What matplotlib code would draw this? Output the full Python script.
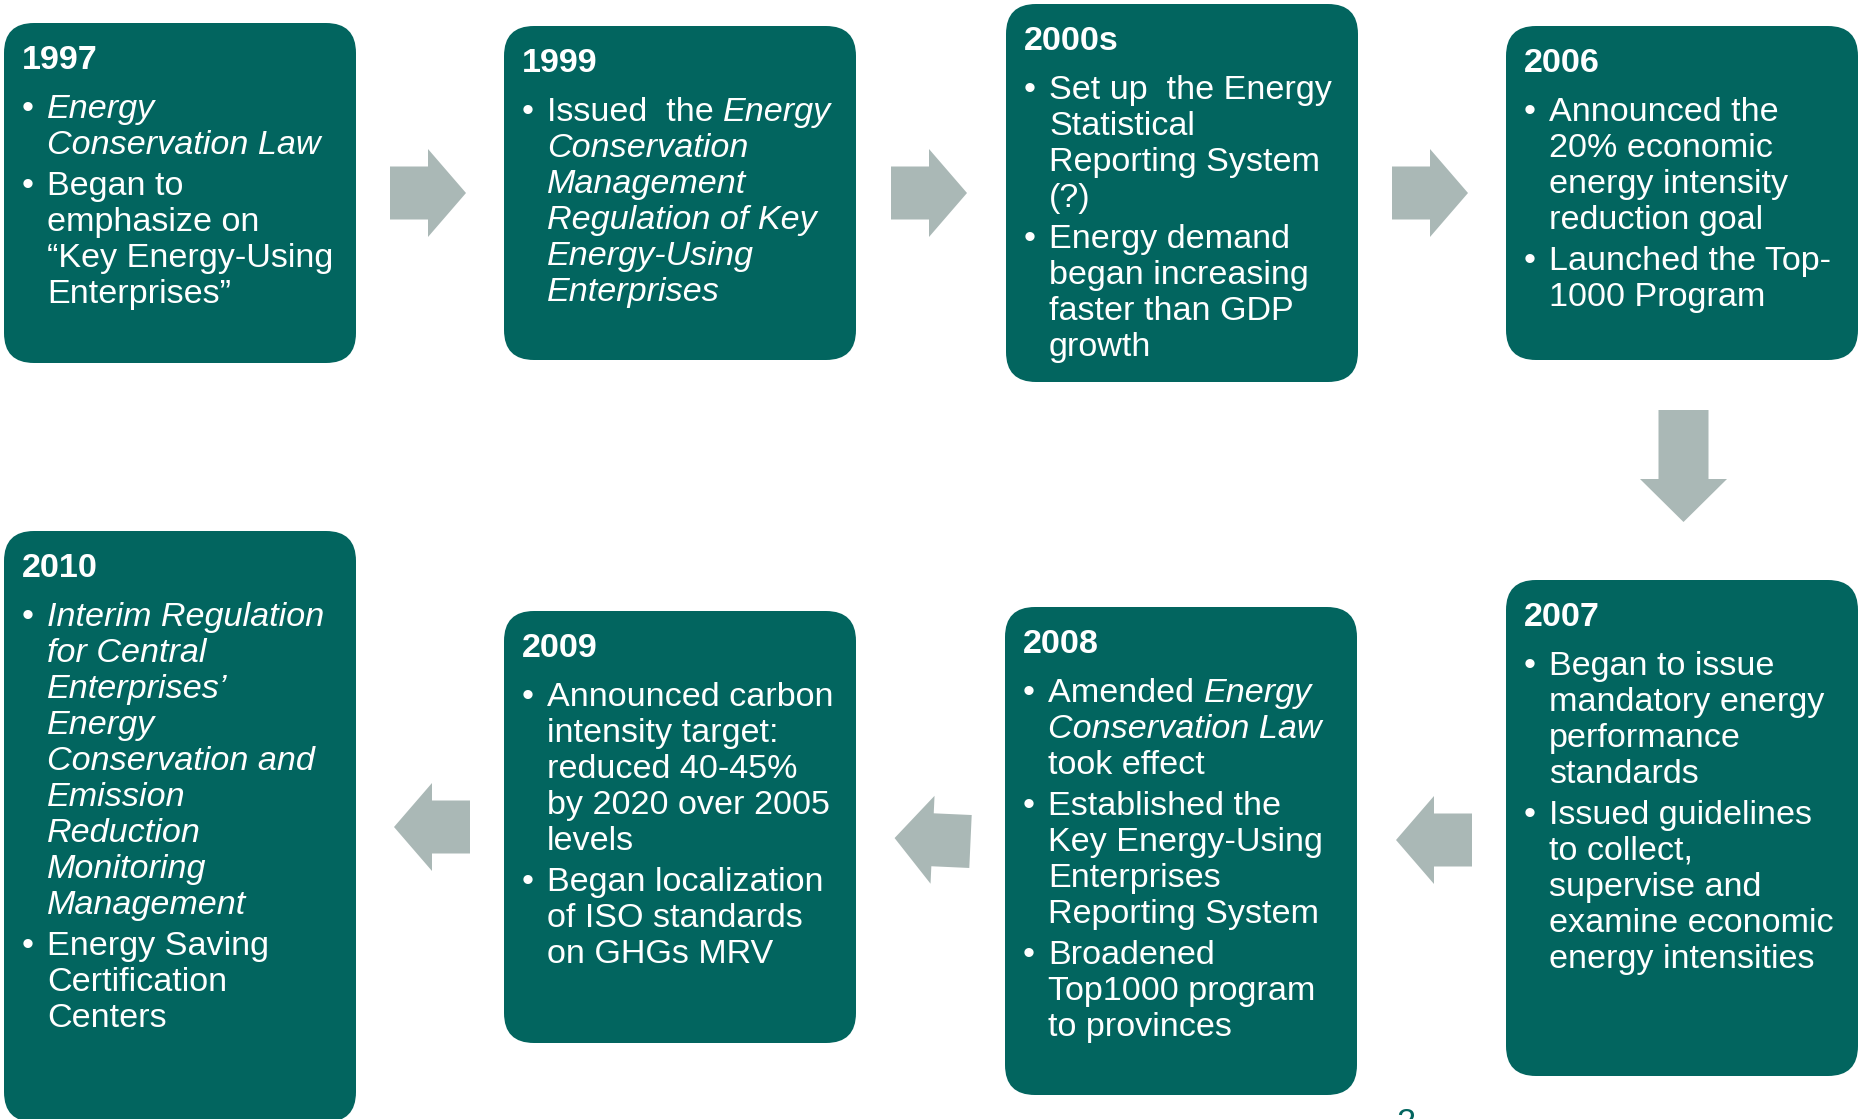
import numpy as np
import matplotlib
matplotlib.use("Agg")
import matplotlib.pyplot as plt
from matplotlib.patches import FancyBboxPatch, Polygon

# ---- content ----
years = ["1997", "1999", "2000s", "2006", "2007", "2008", "2009", "2010"]

# one list per bullet, one string per line, *...* marks italic text
notes_1997 = [["*Energy*", "*Conservation Law*"],
              ["Began to", "emphasize on", "\u201cKey Energy-Using", "Enterprises\u201d"]]
notes_1999 = [["Issued  the *Energy*", "*Conservation*", "*Management*",
               "*Regulation of Key*", "*Energy-Using*", "*Enterprises*"]]
notes_2000s = [["Set up  the Energy", "Statistical", "Reporting System", "(?)"],
               ["Energy demand", "began increasing", "faster than GDP", "growth"]]
notes_2006 = [["Announced the", "20% economic", "energy intensity", "reduction goal"],
              ["Launched the Top-", "1000 Program"]]
notes_2007 = [["Began to issue", "mandatory energy", "performance", "standards"],
              ["Issued guidelines", "to collect,", "supervise and", "examine economic",
               "energy intensities"]]
notes_2008 = [["Amended *Energy*", "*Conservation Law*", "took effect"],
              ["Established the", "Key Energy-Using", "Enterprises", "Reporting System"],
              ["Broadened", "Top1000 program", "to provinces"]]
notes_2009 = [["Announced carbon", "intensity target:", "reduced 40-45%",
               "by 2020 over 2005", "levels"],
              ["Began localization", "of ISO standards", "on GHGs MRV"]]
notes_2010 = [["*Interim Regulation*", "*for Central*", "*Enterprises\u2019*", "*Energy*",
               "*Conservation and*", "*Emission*", "*Reduction*", "*Monitoring*",
               "*Management*"],
              ["Energy Saving", "Certification", "Centers"]]
notes = [notes_1997, notes_1999, notes_2000s, notes_2006,
         notes_2007, notes_2008, notes_2009, notes_2010]
page_no = "2"

# ---- layout (pixels, y downwards) ----
box_left = [4, 504, 1006, 1506, 1506, 1005, 504, 4]
box_top = [23, 26, 4, 26, 580, 607, 611, 531]
box_w = 352
box_bottom = [363, 360, 382, 360, 1076, 1095, 1043, 1122]

TEAL = "#02655F"
GREY = "#AAB8B6"
FONT = "Liberation Sans"
FS = 24.6

fig = plt.figure(figsize=(18.64, 11.19), dpi=100)
ax = fig.add_axes([0, 0, 1, 1])
ax.set_xlim(0, 1864)
ax.set_ylim(1119, 0)
ax.axis("off")
renderer = fig.canvas.get_renderer()


def width_of(s, style):
    t = ax.text(0, 0, s + "|", fontsize=FS, family=FONT, style=style)
    b = ax.text(0, 0, "|", fontsize=FS, family=FONT, style=style)
    w = t.get_window_extent(renderer).width - b.get_window_extent(renderer).width
    t.remove()
    b.remove()
    return w


def arrow(tx, ty, angle, shaft_len, head_len, shaft_half, head_half):
    pts = np.array([[0, -shaft_half], [shaft_len, -shaft_half], [shaft_len, -head_half],
                    [shaft_len + head_len, 0], [shaft_len, head_half],
                    [shaft_len, shaft_half], [0, shaft_half]])
    a = np.deg2rad(angle)
    R = np.array([[np.cos(a), -np.sin(a)], [np.sin(a), np.cos(a)]])
    pts = pts @ R.T + [tx, ty]
    ax.add_patch(Polygon(pts, closed=True, fc=GREY, ec="none"))


for k in range(len(years)):
    x0, y0, y1 = box_left[k], box_top[k], box_bottom[k]
    ax.add_patch(FancyBboxPatch((x0, y0), box_w, y1 - y0,
                                boxstyle="round,pad=0,rounding_size=30",
                                fc=TEAL, ec="none"))
    y = y0 + 46
    ax.text(x0 + 18, y, years[k], fontsize=FS, family=FONT, weight="bold",
            color="white", va="baseline")
    y += 49
    for bullet in notes[k]:
        ax.text(x0 + 18, y, "\u2022", fontsize=FS, family=FONT, color="white",
                va="baseline")
        for line in bullet:
            x = x0 + 43
            for j, piece in enumerate(line.split("*")):
                if piece == "":
                    continue
                style = "italic" if j % 2 else "normal"
                ax.text(x, y, piece, fontsize=FS, family=FONT, style=style,
                        color="white", va="baseline")
                x += width_of(piece, style)
            y += 36
        y += 5

# arrows between boxes
for tx in [390, 891, 1392]:
    arrow(tx, 193, 0, 38, 38, 26.5, 44)
arrow(1683.5, 410, 90, 69, 43, 25, 43.5)
arrow(1472, 840, 180, 38, 38, 26.5, 44)
arrow(970.5, 841.5, 182.6, 38, 38, 26.5, 44)
arrow(470, 827, 180, 38, 38, 26.5, 44)

# page number, cut off by the bottom edge as in the slide
ax.text(1396, 1132, page_no, fontsize=FS, family=FONT, color=TEAL, va="baseline")

fig.savefig("out.png", dpi=100)
